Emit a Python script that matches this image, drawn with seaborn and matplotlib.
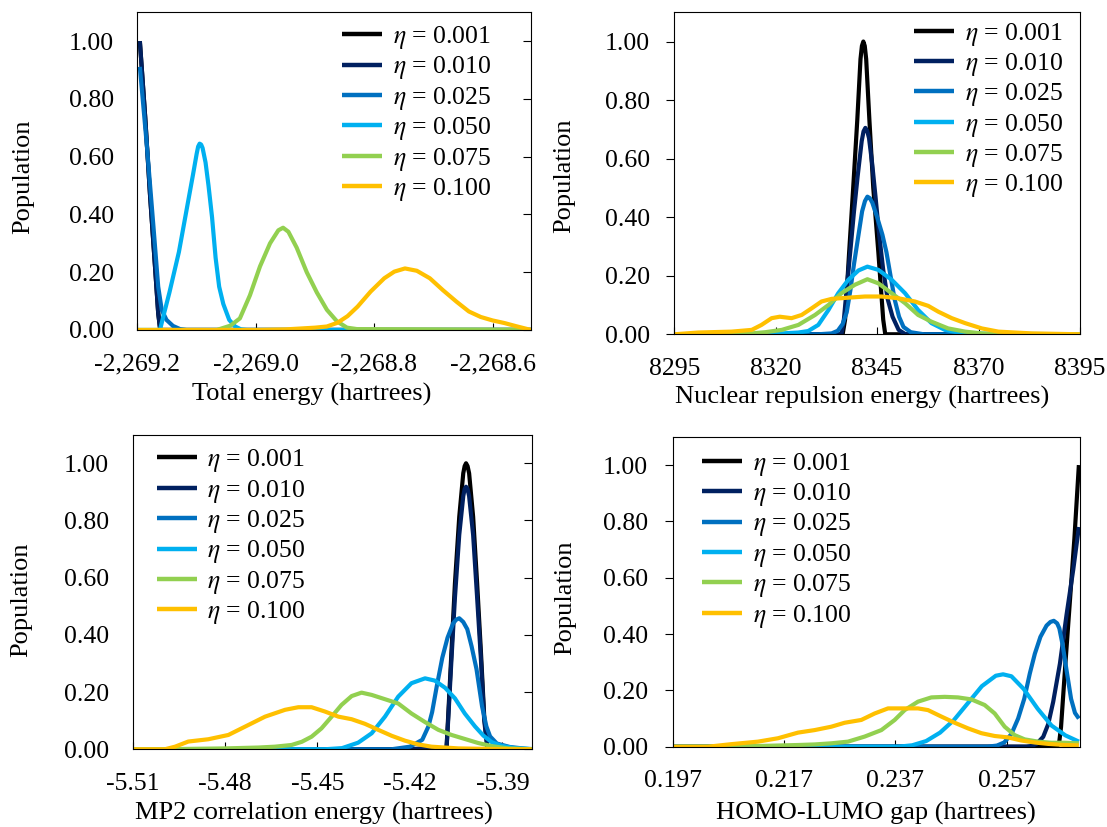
import matplotlib
matplotlib.use("Agg")
import matplotlib.pyplot as plt
from matplotlib.lines import Line2D
from matplotlib.ticker import FixedLocator, FuncFormatter
import pandas as pd
import seaborn as sns

sns.set_theme(style="white")
plt.rcParams["font.family"] = ["Liberation Serif", "DejaVu Serif"]
plt.rcParams["mathtext.fontset"] = "stix"
for key in ("text.color", "axes.labelcolor", "xtick.color", "ytick.color", "axes.edgecolor"):
    plt.rcParams[key] = "black"

ETA = ["0.001", "0.010", "0.025", "0.050", "0.075", "0.100"]
COLORS = ["#000000", "#002060", "#0070C0", "#00B0F0", "#92D050", "#FFC000"]

# ---------------- Total energy (hartrees) ----------------
TE_X_001 = [-2269.196, -2269.187, -2269.179, -2269.170, -2269.165, -2269.162, -2269.161, -2269.100, -2268.535]
TE_Y_001 = [1.00, 0.738, 0.473, 0.208, 0.058, 0.007, 0.0, 0.0, 0.0]
TE_X_010 = [-2269.196, -2269.187, -2269.179, -2269.170, -2269.165, -2269.162, -2269.161, -2269.100, -2268.535]
TE_Y_010 = [1.00, 0.738, 0.473, 0.208, 0.058, 0.007, 0.0, 0.0, 0.0]
TE_X_025 = [-2269.196, -2269.184, -2269.173, -2269.165, -2269.159, -2269.151, -2269.140, -2269.128,
            -2269.117, -2269.000, -2268.535]
TE_Y_025 = [0.911, 0.634, 0.357, 0.150, 0.069, 0.035, 0.014, 0.003, 0.0, 0.0, 0.0]
TE_X_050 = [-2269.200, -2269.162, -2269.156, -2269.146, -2269.138, -2269.130, -2269.122, -2269.114,
            -2269.106, -2269.100, -2269.0975, -2269.095, -2269.0925, -2269.090, -2269.085, -2269.080,
            -2269.074, -2269.068, -2269.062, -2269.055, -2269.045, -2269.035, -2269.025, -2269.015,
            -2268.535]
TE_Y_050 = [0.0, 0.0, 0.05, 0.13, 0.20, 0.27, 0.36, 0.45, 0.54, 0.61, 0.635, 0.645, 0.642, 0.63,
            0.58, 0.50, 0.39, 0.25, 0.15, 0.09, 0.035, 0.012, 0.002, 0.0, 0.0]
TE_X_075 = [-2269.200, -2269.066, -2269.043, -2269.027, -2269.010, -2268.993, -2268.976, -2268.962,
            -2268.954, -2268.945, -2268.931, -2268.914, -2268.897, -2268.880, -2268.863, -2268.846,
            -2268.829, -2268.565, -2268.535]
TE_Y_075 = [0.0, 0.0, 0.015, 0.04, 0.12, 0.22, 0.30, 0.345, 0.354, 0.34, 0.285, 0.20, 0.13, 0.07,
            0.03, 0.008, 0.003, 0.001, 0.0]
TE_X_100 = [-2269.200, -2269.000, -2268.950, -2268.925, -2268.900, -2268.880, -2268.862, -2268.845,
            -2268.828, -2268.806, -2268.783, -2268.766, -2268.748, -2268.728, -2268.706, -2268.684,
            -2268.661, -2268.640, -2268.620, -2268.600, -2268.580, -2268.560, -2268.535]
TE_Y_100 = [0.0, 0.0, 0.002, 0.005, 0.008, 0.012, 0.025, 0.048, 0.081, 0.133, 0.179, 0.202, 0.213,
            0.205, 0.179, 0.138, 0.098, 0.064, 0.045, 0.033, 0.024, 0.013, 0.0]

# ---------------- Nuclear repulsion energy (hartrees) ----------------
NR_X_001 = [8295, 8336.5, 8337.1, 8338.1, 8339.1, 8340.1, 8340.9, 8341.25, 8341.6, 8341.95, 8342.3,
            8343.1, 8344.05, 8345.3, 8346.5, 8347.0, 8395]
NR_Y_001 = [0.0, 0.0, 0.05, 0.28, 0.50, 0.73, 0.94, 0.985, 1.00, 0.985, 0.94, 0.73, 0.50, 0.28, 0.05,
            0.0, 0.0]
NR_X_010 = [8295, 8336.2, 8336.8, 8337.6, 8338.5, 8339.3, 8340.2, 8341.2, 8341.65, 8342.1, 8342.55,
            8343.0, 8343.8, 8344.6, 8345.5, 8346.5, 8347.6, 8348.8, 8350.3, 8352.0, 8395]
NR_Y_010 = [0.0, 0.0, 0.05, 0.17, 0.30, 0.42, 0.54, 0.66, 0.693, 0.705, 0.695, 0.67, 0.58, 0.47,
            0.34, 0.22, 0.12, 0.06, 0.015, 0.0, 0.0]
NR_X_025 = [8295, 8330.5, 8333.8, 8335.3, 8336.5, 8337.5, 8338.4, 8339.3, 8340.3, 8341.3, 8342.0,
            8342.6, 8343.2, 8343.8, 8345.0, 8346.3, 8347.3, 8348.3, 8349.3, 8350.4, 8351.5, 8353.3,
            8356.5, 8395]
NR_Y_025 = [0.0, 0.0, 0.003, 0.012, 0.035, 0.075, 0.15, 0.24, 0.33, 0.42, 0.455, 0.47, 0.465, 0.45,
            0.40, 0.34, 0.28, 0.20, 0.12, 0.06, 0.025, 0.007, 0.0, 0.0]
NR_X_050 = [8295, 8313.2, 8321.5, 8325.6, 8328.0, 8330.5, 8333.0, 8335.4, 8337.9, 8340.4, 8342.6,
            8345.3, 8348.6, 8351.9, 8355.1, 8358.4, 8361.7, 8365.0, 8370.8, 8395]
NR_Y_050 = [0.0, 0.0, 0.003, 0.006, 0.011, 0.032, 0.083, 0.14, 0.186, 0.218, 0.231, 0.22, 0.186,
            0.14, 0.083, 0.038, 0.015, 0.006, 0.002, 0.0]
NR_X_075 = [8295, 8305.0, 8313.2, 8317.4, 8321.5, 8325.6, 8329.7, 8333.0, 8336.2, 8339.5, 8342.6,
            8345.3, 8348.6, 8351.9, 8355.1, 8358.4, 8362.5, 8366.7, 8370.8, 8374.9, 8395]
NR_Y_075 = [0.0, 0.0, 0.002, 0.007, 0.015, 0.032, 0.066, 0.10, 0.14, 0.169, 0.188, 0.174, 0.14,
            0.106, 0.066, 0.043, 0.02, 0.009, 0.003, 0.0, 0.0]
NR_X_100 = [8295, 8300.9, 8309.1, 8314.1, 8316.5, 8319.0, 8321.0, 8323.9, 8326.4, 8328.9, 8331.3,
            8333.8, 8337.9, 8342.0, 8346.1, 8350.2, 8354.3, 8357.6, 8360.1, 8363.4, 8366.7, 8370.8,
            8374.9, 8379.0, 8383.1, 8387.2, 8395]
NR_Y_100 = [0.0, 0.006, 0.009, 0.015, 0.032, 0.055, 0.06, 0.055, 0.066, 0.089, 0.112, 0.121, 0.125,
            0.129, 0.129, 0.123, 0.112, 0.097, 0.077, 0.055, 0.038, 0.02, 0.009, 0.006, 0.003, 0.002,
            0.0]

# ---------------- MP2 correlation energy (hartrees) ----------------
MP_X_001 = [-5.5100, -5.4090, -5.4081, -5.4076, -5.4065, -5.4054, -5.4040, -5.4027, -5.40225, -5.4018,
            -5.4013, -5.4008, -5.3995, -5.3982, -5.3970, -5.3959, -5.3949, -5.3940, -5.3805]
MP_Y_001 = [0.0, 0.0, 0.009, 0.114, 0.347, 0.58, 0.813, 0.965, 0.99, 1.00, 0.99, 0.965, 0.813, 0.58,
            0.347, 0.114, 0.009, 0.0, 0.0]
MP_X_010 = [-5.5100, -5.4200, -5.4150, -5.4100, -5.4090, -5.4081, -5.4076, -5.4065, -5.4054, -5.4040,
            -5.4027, -5.40225, -5.4018, -5.4013, -5.4008, -5.3995, -5.3982, -5.3970, -5.3959, -5.3949,
            -5.3940, -5.3805]
MP_Y_010 = [0.0, 0.0, 0.004, 0.004, 0.0, 0.008, 0.10, 0.32, 0.53, 0.75, 0.885, 0.91, 0.918, 0.91,
            0.885, 0.75, 0.53, 0.32, 0.10, 0.008, 0.0, 0.0]
MP_X_025 = [-5.5100, -5.4260, -5.4200, -5.4160, -5.4140, -5.4128, -5.4113, -5.4095, -5.4078, -5.4060,
            -5.4050, -5.4040, -5.4027, -5.4014, -5.4000, -5.3984, -5.3966, -5.3952, -5.3940, -5.3918,
            -5.3876, -5.3827, -5.3805]
MP_Y_025 = [0.0, 0.0, 0.009, 0.033, 0.08, 0.13, 0.22, 0.32, 0.39, 0.44, 0.453, 0.458, 0.445, 0.42,
            0.36, 0.28, 0.15, 0.08, 0.045, 0.02, 0.008, 0.002, 0.0]
MP_X_050 = [-5.5100, -5.4476, -5.4420, -5.4368, -5.4324, -5.4281, -5.4238, -5.4195, -5.4151, -5.4119,
            -5.4086, -5.4054, -5.4022, -5.3989, -5.3962, -5.3935, -5.3903, -5.3860, -5.3805]
MP_Y_050 = [0.0, 0.0, 0.004, 0.023, 0.056, 0.114, 0.184, 0.231, 0.248, 0.24, 0.215, 0.178, 0.125,
            0.08, 0.048, 0.025, 0.012, 0.004, 0.001]
MP_X_075 = [-5.5100, -5.5016, -5.4800, -5.4692, -5.4638, -5.4584, -5.4551, -5.4519, -5.4487, -5.4454,
            -5.4422, -5.4389, -5.4357, -5.4324, -5.4281, -5.4238, -5.4195, -5.4151, -5.4108, -5.4065,
            -5.4022, -5.3979, -5.3935, -5.3881, -5.3805]
MP_Y_075 = [0.0, 0.0, 0.003, 0.006, 0.009, 0.015, 0.026, 0.044, 0.073, 0.114, 0.155, 0.186, 0.198,
            0.19, 0.175, 0.16, 0.125, 0.095, 0.068, 0.05, 0.036, 0.022, 0.011, 0.003, 0.0]
MP_X_100 = [-5.5100, -5.4995, -5.4962, -5.4919, -5.4854, -5.4789, -5.4735, -5.4670, -5.4605, -5.4562,
            -5.4519, -5.4476, -5.4432, -5.4389, -5.4346, -5.4303, -5.4259, -5.4216, -5.4173, -5.4130,
            -5.4086, -5.4043, -5.3935, -5.3805]
MP_Y_100 = [0.0, 0.0, 0.009, 0.027, 0.035, 0.05, 0.079, 0.114, 0.138, 0.147, 0.147, 0.132, 0.114,
            0.105, 0.089, 0.068, 0.047, 0.03, 0.017, 0.009, 0.006, 0.003, 0.001, 0.0]

# ---------------- HOMO-LUMO gap (hartrees) ----------------
HL_X_001 = [0.1970, 0.2655, 0.2661, 0.2664, 0.2667, 0.2675, 0.2683, 0.2691, 0.2699]
HL_Y_001 = [0.0, 0.0, 0.004, 0.02, 0.07, 0.30, 0.52, 0.74, 1.00]
HL_X_010 = [0.1970, 0.2605, 0.2615, 0.2623, 0.2635, 0.2644, 0.2653, 0.2665, 0.2677, 0.2689, 0.2699]
HL_Y_010 = [0.0, 0.0, 0.003, 0.01, 0.035, 0.08, 0.16, 0.295, 0.47, 0.63, 0.78]
HL_X_025 = [0.1970, 0.2535, 0.2552, 0.2565, 0.2578, 0.2590, 0.2601, 0.2611, 0.2620, 0.2630, 0.2641,
            0.2648, 0.2654, 0.2660, 0.2664, 0.2670, 0.2677, 0.2685, 0.2692, 0.2699]
HL_Y_025 = [0.0, 0.0, 0.004, 0.015, 0.045, 0.10, 0.17, 0.26, 0.33, 0.39, 0.43, 0.443, 0.447, 0.438,
            0.42, 0.36, 0.27, 0.17, 0.12, 0.10]
HL_X_050 = [0.1970, 0.2375, 0.2400, 0.2425, 0.2450, 0.2475, 0.2500, 0.2525, 0.2550, 0.2563, 0.2578,
            0.2600, 0.2625, 0.2650, 0.2675, 0.2699]
HL_Y_050 = [0.0, 0.0, 0.005, 0.02, 0.05, 0.095, 0.155, 0.215, 0.252, 0.257, 0.25, 0.205, 0.135,
            0.075, 0.04, 0.018]
HL_X_075 = [0.1970, 0.20157, 0.20755, 0.21353, 0.21951, 0.22250, 0.22549, 0.22849, 0.23148, 0.23447,
            0.23686, 0.23865, 0.24104, 0.24343, 0.24583, 0.24822, 0.25061, 0.25300, 0.25480, 0.25659,
            0.25839, 0.26018, 0.26257, 0.26496, 0.26735, 0.2699]
HL_Y_075 = [0.0, 0.0, 0.001, 0.003, 0.006, 0.008, 0.012, 0.018, 0.036, 0.059, 0.095, 0.13, 0.16,
            0.175, 0.177, 0.175, 0.168, 0.148, 0.118, 0.071, 0.041, 0.026, 0.018, 0.014, 0.014, 0.012]
HL_X_100 = [0.1970, 0.20337, 0.20755, 0.21234, 0.21592, 0.21951, 0.22250, 0.22549, 0.22788, 0.23087,
            0.23327, 0.23566, 0.23805, 0.24104, 0.24283, 0.24523, 0.24762, 0.25002, 0.25241, 0.25480,
            0.25719, 0.25958, 0.26197, 0.26436, 0.26735, 0.2699]
HL_Y_100 = [0.0, 0.0, 0.009, 0.018, 0.03, 0.05, 0.059, 0.071, 0.085, 0.095, 0.118, 0.136, 0.136,
            0.136, 0.13, 0.107, 0.085, 0.065, 0.048, 0.038, 0.033, 0.022, 0.015, 0.01, 0.006, 0.005]

# ---------------- axis text ----------------
TE_TICKS = [-2269.2, -2269.0, -2268.8, -2268.6]
NR_TICKS = [8295, 8320, 8345, 8370, 8395]
MP_TICKS = [-5.51, -5.48, -5.45, -5.42, -5.39]
HL_TICKS = [0.197, 0.217, 0.237, 0.257]
Y_TICKS = [0.0, 0.2, 0.4, 0.6, 0.8, 1.0]
XLABELS = ["Total energy (hartrees)", "Nuclear repulsion energy (hartrees)",
           "MP2 correlation energy (hartrees)", "HOMO-LUMO gap (hartrees)"]
YLABEL = "Population"


def long_frame(xs, ys):
    parts = [pd.DataFrame({"x": x, "y": y, "eta": lab}) for lab, x, y in zip(ETA, xs, ys)]
    return pd.concat(parts, ignore_index=True)


panels = [
    dict(df=long_frame([TE_X_001, TE_X_010, TE_X_025, TE_X_050, TE_X_075, TE_X_100],
                       [TE_Y_001, TE_Y_010, TE_Y_025, TE_Y_050, TE_Y_075, TE_Y_100]),
         rect=[0.1242, 0.6010, 0.3555, 0.3842], xlim=(-2269.2, -2268.535), ticks=TE_TICKS,
         fmt=lambda v, p: f"{v:,.1f}", yside="right", leg=(0.5205, 0.9625),
         ylab=(-0.2902, 0.4825), xlab=(0.4435, -0.2014)),
    dict(df=long_frame([NR_X_001, NR_X_010, NR_X_025, NR_X_050, NR_X_075, NR_X_100],
                       [NR_Y_001, NR_Y_010, NR_Y_025, NR_Y_050, NR_Y_075, NR_Y_100]),
         rect=[0.6091, 0.5958, 0.3665, 0.3894], xlim=(8295, 8395), ticks=NR_TICKS,
         fmt=lambda v, p: f"{v:.0f}", yside="left", leg=(0.5916, 0.9736),
         ylab=(-0.2714, 0.4922), xlab=(0.4636, -0.1963)),
    dict(df=long_frame([MP_X_001, MP_X_010, MP_X_025, MP_X_050, MP_X_075, MP_X_100],
                       [MP_Y_001, MP_Y_010, MP_Y_025, MP_Y_050, MP_Y_075, MP_Y_100]),
         rect=[0.1197, 0.0940, 0.3606, 0.3804], xlim=(-5.51, -5.3805), ticks=MP_TICKS,
         fmt=lambda v, p: f"{v:.2f}", yside="right", leg=(0.0606, 0.9593),
         ylab=(-0.2791, 0.4755), xlab=(0.4534, -0.2034)),
    dict(df=long_frame([HL_X_001, HL_X_010, HL_X_025, HL_X_050, HL_X_075, HL_X_100],
                       [HL_Y_001, HL_Y_010, HL_Y_025, HL_Y_050, HL_Y_075, HL_Y_100]),
         rect=[0.6075, 0.0971, 0.3681, 0.3746], xlim=(0.197, 0.2701), ticks=HL_TICKS,
         fmt=lambda v, p: f"{v:.3f}", yside="left", leg=(0.0731, 0.9551),
         ylab=(-0.2645, 0.4803), xlab=(0.4994, -0.2163)),
]

TICK_FS = 18.5
LABEL_FS = 19
palette = dict(zip(ETA, COLORS))

fig = plt.figure(figsize=(11.07, 8.27), dpi=100)
fig.patch.set_facecolor("white")

for panel, xlabel in zip(panels, XLABELS):
    ax = fig.add_axes(panel["rect"])
    sns.lineplot(data=panel["df"], x="x", y="y", hue="eta", hue_order=ETA, palette=palette,
                 estimator=None, sort=False, linewidth=3.0, legend=False, ax=ax,
                 solid_joinstyle="round", solid_capstyle="butt")
    ax.set_xlim(*panel["xlim"])
    ax.set_ylim(0, 1.1)
    ax.xaxis.set_major_locator(FixedLocator(panel["ticks"]))
    ax.xaxis.set_major_formatter(FuncFormatter(panel["fmt"]))
    ax.yaxis.set_major_locator(FixedLocator(Y_TICKS))
    ax.yaxis.set_major_formatter(FuncFormatter(lambda v, p: f"{v:.2f}"))

    for sp in ax.spines.values():
        sp.set_visible(True)
        sp.set_color("black")
        sp.set_linewidth(0.8)

    ax.tick_params(axis="x", bottom=True, top=False, direction="in", length=5, width=0.8,
                   pad=17, labelsize=TICK_FS, colors="black")
    if panel["yside"] == "right":
        ax.tick_params(axis="y", left=False, right=True, labelleft=True, labelright=False,
                       direction="in", length=5.5, width=0.8, pad=17, labelsize=TICK_FS,
                       colors="black")
    else:
        ax.tick_params(axis="y", left=True, right=False, labelleft=True, labelright=False,
                       direction="out", length=5.5, width=0.8, pad=12, labelsize=TICK_FS,
                       colors="black")

    ax.set_xlabel(xlabel, fontsize=LABEL_FS)
    ax.set_ylabel(YLABEL, fontsize=LABEL_FS)
    ax.xaxis.set_label_coords(*panel["xlab"])
    ax.yaxis.set_label_coords(*panel["ylab"])
    ax.xaxis.label.set_va("center")
    ax.yaxis.label.set_va("center")

    handles = [Line2D([0], [0], color=c, lw=3.2, solid_capstyle="butt") for c in COLORS]
    labels = [rf"$\eta$ = {v}" for v in ETA]
    ax.legend(handles, labels, loc="upper left", bbox_to_anchor=panel["leg"], frameon=False,
              fontsize=TICK_FS, handlelength=1.56, handletextpad=0.4, labelspacing=0.13,
              borderpad=0, borderaxespad=0)

fig.savefig("out.png", dpi=100, facecolor="white")
